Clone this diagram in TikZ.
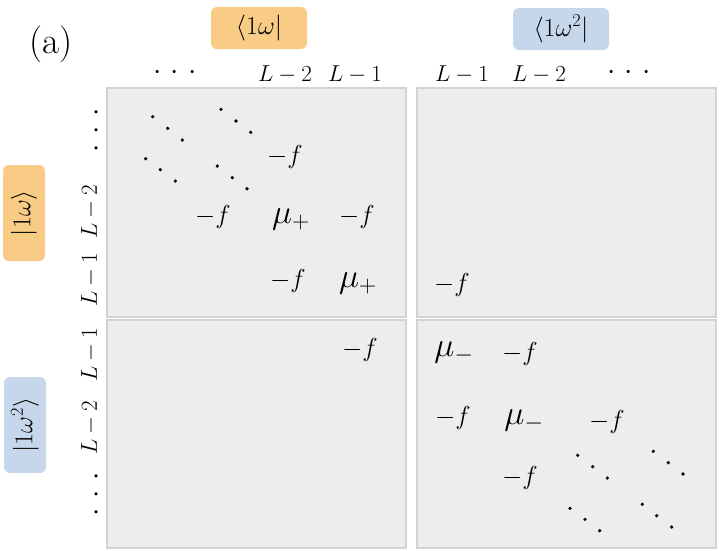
\RequirePackage{fix-cm}
\documentclass[tikz,border=0pt]{standalone}
\definecolor{panelfill}{HTML}{EDEDED}
\definecolor{paneldraw}{HTML}{D3D3D3}
\definecolor{orangebox}{HTML}{F9CC85}
\definecolor{bluebox}{HTML}{C6D7EC}
\newcommand{\threedots}{$\cdot$\hspace{9.5pt}$\cdot$\hspace{9.5pt}$\cdot$}
\begin{document}
\begin{tikzpicture}[x=1pt,y=-1pt,
 panel/.style={fill=panelfill,draw=paneldraw,line width=1.2pt},
 lab/.style={inner sep=0pt,font=\fontsize{23}{23}\selectfont},
 dotlab/.style={inner sep=0pt,anchor=base,font=\fontsize{30}{30}\selectfont},
 ent/.style={inner sep=0pt,font=\fontsize{26}{26}\selectfont},
 mu/.style={inner sep=0pt,font=\fontsize{34}{34}\selectfont},
 tag/.style={rounded corners=6pt,minimum width=96pt,minimum height=42pt,inner sep=0pt,font=\fontsize{26}{26}\selectfont},
 dot/.style={fill=black}]
\useasboundingbox (0,0) rectangle (721,550);
% panels
\draw[panel] (107,88) rectangle (406,317);
\draw[panel] (417,88) rectangle (716,317);
\draw[panel] (107,320) rectangle (406,548);
\draw[panel] (417,320) rectangle (716,548);
% title
\node[inner sep=0pt,font=\fontsize{37}{37}\selectfont] (title) at (51,44) {(a)};
% tags
\node[tag,fill=orangebox] (bra1) at (259,28) {$\langle 1\omega|$};
\node[tag,fill=bluebox] (bra2) at (561,29) {$\langle 1\omega^2|$};
\node[tag,fill=orangebox,rotate=90] (ket1) at (24,213) {$|1\omega\rangle$};
\node[tag,fill=bluebox,rotate=90] (ket2) at (25,425) {$|1\omega^2\rangle$};
% column labels
\node[dotlab] (c1) at (175,79.5) {\threedots};
\node[lab] (c2) at (285,75) {$L-2$};
\node[lab] (c3) at (355,75) {$L-1$};
\node[lab] (c4) at (462,75) {$L-1$};
\node[lab] (c5) at (539,75) {$L-2$};
\node[dotlab] (c6) at (629,79.5) {\threedots};
% row labels
\node[dotlab,rotate=90] (r1) at (103.5,130) {\threedots};
\node[lab,rotate=90] (r2) at (90,212) {$L-2$};
\node[lab,rotate=90] (r3) at (90,280) {$L-1$};
\node[lab,rotate=90] (r4) at (90,355) {$L-1$};
\node[lab,rotate=90] (r5) at (90,428) {$L-2$};
\node[dotlab,rotate=90] (r6) at (103.5,494) {\threedots};
% top-left entries
\node[ent] (a1) at (285,157) {$-f$};
\node[ent] (a2) at (213,217) {$-f$};
\node[mu] (a3) at (291,219) {$\mu_+$};
\node[ent] (a4) at (357,217) {$-f$};
\node[ent] (a5) at (288,281) {$-f$};
\node[mu] (a6) at (358,283) {$\mu_+$};
% top-right
\node[ent] (b1) at (452,285) {$-f$};
% bottom-left
\node[ent] (d1) at (360,350) {$-f$};
% bottom-right
\node[mu] (e1) at (454,353) {$\mu_-$};
\node[ent] (e2) at (520,354) {$-f$};
\node[ent] (e3) at (453,418) {$-f$};
\node[mu] (e4) at (524,421) {$\mu_-$};
\node[ent] (e5) at (607,422) {$-f$};
\node[ent] (e6) at (520,478) {$-f$};
% diagonal dots
\foreach \p in {(152.7,116.7),(167.7,128.3),(182.3,140),
  (221,109.3),(236,121),(250.7,132.3),
  (145.7,158.7),(160.3,169.7),(175.3,181),
  (217.3,166),(232.3,177.7),(247,188.7),
  (577.7,455.3),(592.7,466.7),(607.3,478),
  (653.3,451.3),(668.3,462.7),(683,474),
  (570,508.3),(585,519.3),(599.7,530.7),
  (642.3,504.3),(656.7,515.7),(671.7,527)}
  \fill[dot] \p circle (1.8);
\end{tikzpicture}
\end{document}
